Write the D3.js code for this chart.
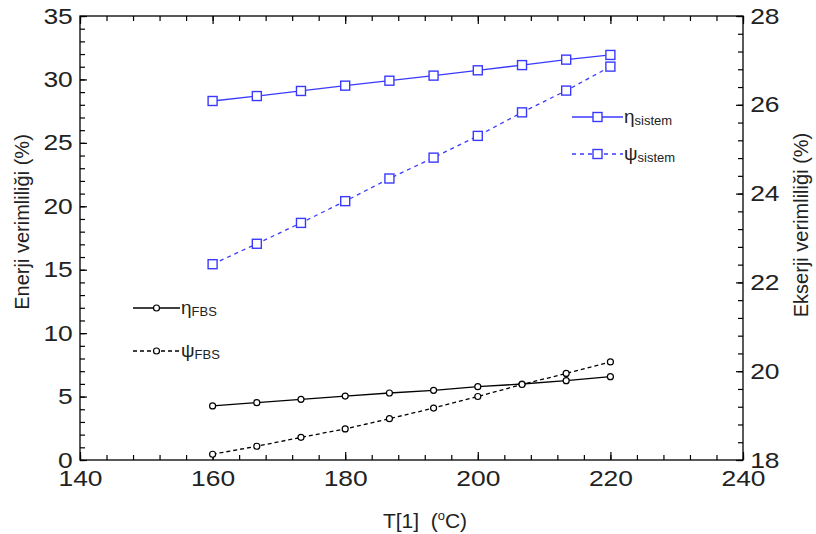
<!DOCTYPE html>
<html><head><meta charset="utf-8">
<script src="https://cdn.jsdelivr.net/npm/d3@7"></script>
<style>body{margin:0;background:#fff}svg{display:block}text{font-family:"Liberation Sans",Arial,sans-serif}</style>
</head><body><svg id="c" width="816" height="534"></svg>
<script>
const temps = [160, 166.67, 173.33, 180, 186.67, 193.33, 200, 206.67, 213.33, 220];
const etaSistem = [28.30, 28.69, 29.09, 29.51, 29.90, 30.30, 30.72, 31.13, 31.56, 31.93];
const psiSistem = [22.41, 22.87, 23.34, 23.83, 24.34, 24.81, 25.30, 25.83, 26.32, 26.86];
const etaFBS = [4.26, 4.52, 4.78, 5.04, 5.28, 5.49, 5.78, 5.99, 6.25, 6.57];
const psiFBS = [18.13, 18.31, 18.51, 18.70, 18.93, 19.17, 19.43, 19.70, 19.95, 20.21];
const xTicks = [140, 160, 180, 200, 220, 240];
const yLeftTicks = [0, 5, 10, 15, 20, 25, 30, 35];
const yRightTicks = [18, 20, 22, 24, 26, 28];

const svg = d3.select("#c");
const L = 80, R = 743, T = 16, B = 460;
const x = d3.scaleLinear().domain([140, 240]).range([L, R]);
const yL = d3.scaleLinear().domain([0, 35]).range([B, T]);
const yR = d3.scaleLinear().domain([18, 28]).range([B, T]);
const blue = "#3a3aff";

svg.append("rect").attr("x", L).attr("y", T).attr("width", R - L).attr("height", B - T)
  .attr("fill", "none").attr("stroke", "#000").attr("stroke-width", 1.3);

function axis(gen, tr) {
  const g = svg.append("g").attr("transform", tr).call(gen);
  g.select(".domain").remove();
  g.selectAll("line").attr("stroke", "#000").attr("stroke-width", 1.2);
  g.selectAll("text").attr("font-size", 22).attr("fill", "#222");
  return g;
}
axis(d3.axisBottom(x).tickValues(d3.range(140, 241, 4)).tickSize(-5).tickFormat(""), `translate(0,${B})`);
axis(d3.axisTop(x).tickValues(d3.range(140, 241, 4)).tickSize(-5).tickFormat(""), `translate(0,${T})`);
axis(d3.axisLeft(yL).tickValues(d3.range(0, 36, 1)).tickSize(-5).tickFormat(""), `translate(${L},0)`);
axis(d3.axisRight(yR).tickValues(d3.range(18, 28.01, 0.4)).tickSize(-5).tickFormat(""), `translate(${R},0)`);

const gx = axis(d3.axisBottom(x).tickValues(xTicks).tickSize(-8).tickPadding(0).tickFormat(d3.format("d")), `translate(0,${B})`);
gx.selectAll("text").attr("dy", null).attr("y", 26).attr("transform", "scale(1.2,1)");
axis(d3.axisTop(x).tickValues(xTicks).tickSize(-8).tickFormat(""), `translate(0,${T})`);
const gl = axis(d3.axisLeft(yL).tickValues(yLeftTicks).tickSize(-7).tickPadding(0).tickFormat(d3.format("d")), `translate(${L},0)`);
gl.selectAll("text").attr("x", -6).attr("dy", "0.32em").attr("transform", "scale(1.2,1)");
const gr = axis(d3.axisRight(yR).tickValues(yRightTicks).tickSize(-7).tickPadding(0).tickFormat(d3.format("d")), `translate(${R},0)`);
gr.selectAll("text").attr("x", 6).attr("dy", "0.32em").attr("transform", "scale(1.2,1)");

svg.append("text").attr("transform", "translate(29,222) rotate(-90)").attr("text-anchor", "middle")
  .attr("font-size", 20).attr("fill", "#222").text("Enerji verimliliği (%)");
svg.append("text").attr("transform", "translate(808,225) rotate(-90)").attr("text-anchor", "middle")
  .attr("font-size", 20).attr("fill", "#222").text("Ekserji verimliliği (%)");
const xt = svg.append("text").attr("x", 425).attr("y", 528).attr("text-anchor", "middle")
  .attr("font-size", 21).attr("fill", "#222");
xt.append("tspan").text("T[1]\u00a0\u00a0(");
xt.append("tspan").attr("dy", -8).attr("font-size", 13).text("o");
xt.append("tspan").attr("dy", 8).text("C)");

function series(vals, ys, color, dash, marker) {
  const line = d3.line().x((d, i) => x(temps[i])).y(d => ys(d));
  svg.append("path").datum(vals).attr("d", line).attr("fill", "none")
    .attr("stroke", color).attr("stroke-width", 1.3).attr("stroke-dasharray", dash);
  drawMarkers(vals.map((d, i) => [x(temps[i]), ys(d)]), color, marker);
}
function drawMarkers(pts, color, marker) {
  if (marker === "sq") {
    svg.selectAll(null).data(pts).enter().append("rect")
      .attr("x", d => d[0] - 4.5).attr("y", d => d[1] - 4.5).attr("width", 9).attr("height", 9)
      .attr("fill", "#fff").attr("stroke", color).attr("stroke-width", 1.4);
  } else {
    svg.selectAll(null).data(pts).enter().append("circle")
      .attr("cx", d => d[0]).attr("cy", d => d[1]).attr("r", 3)
      .attr("fill", "#fff").attr("stroke", color).attr("stroke-width", 1.2);
  }
}
series(etaSistem, yL, blue, null, "sq");
series(psiSistem, yR, blue, "4,4", "sq");
series(etaFBS, yL, "#000", null, "c");
series(psiFBS, yR, "#000", "4,3", "c");

function legendItem(x1, x2, y, color, dash, marker, sym, sub) {
  svg.append("line").attr("x1", x1).attr("x2", x2).attr("y1", y).attr("y2", y)
    .attr("stroke", color).attr("stroke-width", 1.3).attr("stroke-dasharray", dash);
  drawMarkers([[(x1 + x2) / 2, y]], color, marker);
  const t = svg.append("text").attr("x", x2 + 1).attr("y", y + 6).attr("fill", "#222").attr("font-size", 19);
  t.append("tspan").text(sym);
  t.append("tspan").attr("font-size", 13).attr("dy", 2).text(sub);
}
legendItem(572, 623, 117, blue, null, "sq", "η", "sistem");
legendItem(572, 623, 154, blue, "4,4", "sq", "ψ", "sistem");
legendItem(133, 180, 308, "#000", null, "c", "η", "FBS");
legendItem(133, 180, 351, "#000", "4,3", "c", "ψ", "FBS");
</script></body></html>
